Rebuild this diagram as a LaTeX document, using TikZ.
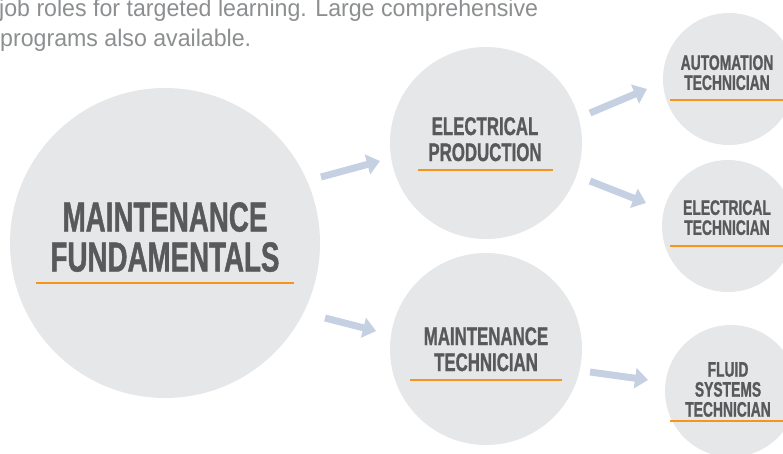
\documentclass[tikz,border=0pt]{standalone}
\usepackage{fontspec}
\setmainfont{Liberation Sans}
\newfontfamily\condfont[FakeStretch=0.66,FakeBold=1]{Liberation Sans Bold}
\newfontfamily\topfont[FakeStretch=0.965]{Liberation Sans}
\usetikzlibrary{arrows.meta}
\definecolor{circfill}{HTML}{E6E7E8}
\definecolor{labgray}{HTML}{58595B}
\definecolor{uline}{HTML}{F7941D}
\definecolor{arrblue}{HTML}{C5D1E3}
\definecolor{topgray}{HTML}{8C8E90}
\begin{document}
\begin{tikzpicture}[x=1pt,y=-1pt,
  circ/.style={circle, fill=circfill, inner sep=0pt, draw=none},
  lab/.style={anchor=north, align=center, inner sep=0pt, text=labgray},
  bigfont/.style={font=\condfont\fontsize{42}{40}\selectfont},
  midfont/.style={font=\condfont\fontsize{25.5}{26}\selectfont},
  smallfont/.style={font=\condfont\fontsize{21}{20}\selectfont},
  ul/.style={draw=uline, line width=2pt},
  arr/.style={draw=arrblue, line width=7pt, -{Triangle[width=20pt,length=13pt]}},
  toptext/.style={anchor=base west, inner sep=0pt, text=topgray, font=\topfont\fontsize{24}{29}\selectfont}
]
\useasboundingbox (0,0) rectangle (783,453);
\clip (0,0) rectangle (783,453);

% intro text
\node[toptext] (t1) at (-1,16) {job roles for targeted learning. Large comprehensive};
\node[toptext] (t2) at (0,46) {programs also available.};

% circles
\node[circ, minimum size=310pt] (mf) at (165,243) {};
\node[circ, minimum size=192pt] (ep) at (486,143) {};
\node[circ, minimum size=192pt] (mt) at (486,349) {};
\node[circ, minimum size=132pt] (at) at (729,79) {};
\node[circ, minimum size=132pt] (et) at (728,226) {};
\node[circ, minimum size=132pt] (ft) at (731,391) {};

% labels
\node[lab, bigfont] (mfl) at (165,202) {MAINTENANCE\\FUNDAMENTALS};
\draw[ul, line width=2.5pt] (36,283) -- (294,283);
\node[lab, midfont] (epl) at (485,117) {ELECTRICAL\\PRODUCTION};
\draw[ul] (418,170) -- (553,170);
\node[lab, midfont] (mtl) at (486,327) {MAINTENANCE\\TECHNICIAN};
\draw[ul] (410,380) -- (562,380);
\node[lab, smallfont] (atl) at (727,55) {AUTOMATION\\TECHNICIAN};
\draw[ul] (670,100) -- (785,100);
\node[lab, smallfont] (etl) at (727,200) {ELECTRICAL\\TECHNICIAN};
\draw[ul] (670,246) -- (785,246);
\node[lab, smallfont] (ftl) at (728,362) {FLUID\\SYSTEMS\\TECHNICIAN};
\draw[ul] (670,421) -- (785,421);

% arrows
\coordinate (a1s) at (321,177); \coordinate (a1e) at (380,161);
\coordinate (a2s) at (325,318); \coordinate (a2e) at (376,331);
\coordinate (a3s) at (590,113); \coordinate (a3e) at (647,89);
\coordinate (a4s) at (590,181); \coordinate (a4e) at (646,203);
\coordinate (a5s) at (590,372); \coordinate (a5e) at (648,380);
\draw[arr] (a1s) -- (a1e);
\draw[arr] (a2s) -- (a2e);
\draw[arr] (a3s) -- (a3e);
\draw[arr] (a4s) -- (a4e);
\draw[arr] (a5s) -- (a5e);
\end{tikzpicture}
\end{document}
